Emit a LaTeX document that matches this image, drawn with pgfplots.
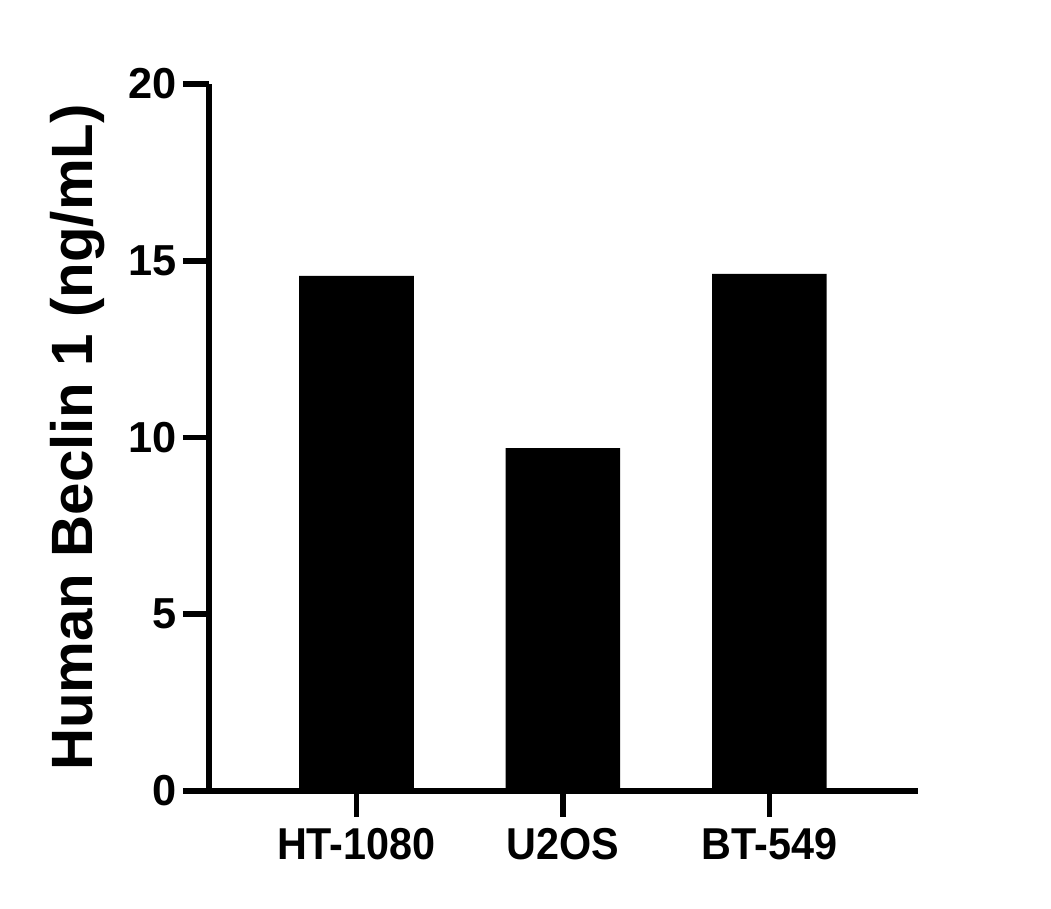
\documentclass[border=0pt]{standalone}
\usepackage{fontspec}
\setmainfont{Liberation Sans}
\usepackage{graphicx}
\usepackage{pgfplots}
\pgfplotsset{compat=1.18}
\begin{document}
\begin{tikzpicture}
\useasboundingbox (0,0) rectangle (788.25pt,681.75pt);
\begin{axis}[
  at={(156.75pt,88.5pt)}, anchor=south west,
  scale only axis, width=531.75pt, height=530.25pt,
  xmin=-0.714, xmax=2.72, ymin=0, ymax=20,
  axis x line*=bottom, axis y line*=left,
  axis line style={line width=4.2pt, -},
  ytick={0,5,10,15,20}, xtick={0,1,2},
  xticklabels={\scalebox{1}[1.08]{HT-1080},\scalebox{1}[1.08]{U2OS},\scalebox{1}[1.08]{BT-549}},
  tick align=outside, major tick length=19.5pt,
  every tick/.style={line width=4.2pt, black},
  /pgf/number format/assume math mode=true,
  xticklabel style={font=\fontsize{31}{31}\selectfont\bfseries, yshift=-5pt},
  yticklabel style={font=\fontsize{32.5}{32.5}\selectfont\bfseries, xshift=-1.5pt},
  ylabel={Human Beclin 1 (ng/mL)},
  ylabel style={font=\fontsize{43.7}{43.7}\selectfont\bfseries, at={(axis description cs:-0.164,0.5)}, anchor=base},
  ybar, bar width=86pt,
]
\addplot[fill=black, draw=none] coordinates {(0,14.57) (1,9.70) (2,14.63)};
\end{axis}
\end{tikzpicture}
\end{document}
